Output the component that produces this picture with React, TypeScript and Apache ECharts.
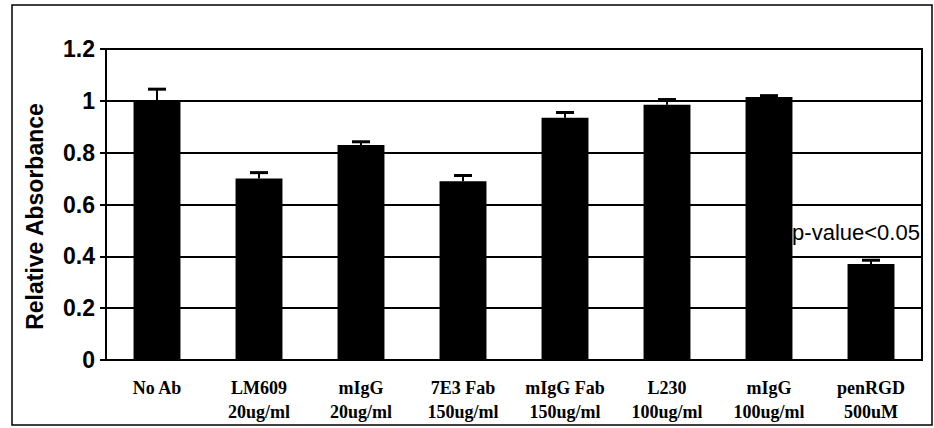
import React, { useEffect, useRef } from "react";
import * as echarts from "echarts";

const categories = [
  "No Ab",
  "LM609\n20ug/ml",
  "mIgG\n20ug/ml",
  "7E3 Fab\n150ug/ml",
  "mIgG Fab\n150ug/ml",
  "L230\n100ug/ml",
  "mIgG\n100ug/ml",
  "penRGD\n500uM",
];
const values = [1.0, 0.70, 0.83, 0.69, 0.935, 0.985, 1.015, 0.37];
const errors = [0.045, 0.023, 0.012, 0.022, 0.02, 0.02, 0.005, 0.015];
const yTicks = { min: 0, max: 1.2, interval: 0.2 };
const annotation = "p-value<0.05";
const annotatedIndex = 7;

export default function App() {
  const ref = useRef<HTMLDivElement>(null);
  useEffect(() => {
    if (!ref.current) return;
    const chart = echarts.init(ref.current, null, { renderer: "svg" });
    const barData = values.map((v, i) =>
      i === annotatedIndex
        ? {
            value: v,
            label: {
              show: true,
              position: "top",
              formatter: annotation,
              offset: [-15, -16],
              color: "#000",
              fontFamily: "Arial, 'Liberation Sans', sans-serif",
              fontSize: 22,
            },
          }
        : v
    );
    chart.setOption({
      animation: false,
      backgroundColor: "#fff",
      grid: {
        left: 106,
        right: 12,
        top: 49,
        bottom: 68,
        show: true,
        borderColor: "#000",
        borderWidth: 2,
        backgroundColor: "transparent",
      },
      graphic: [
        {
          type: "rect",
          shape: { x: 12, y: 5, width: 920, height: 420 },
          style: { fill: "none", stroke: "#000", lineWidth: 1.5 },
          silent: true,
        },
      ],
      xAxis: {
        type: "category",
        data: categories,
        axisLine: { lineStyle: { color: "#000", width: 2 } },
        axisTick: { show: false },
        axisLabel: {
          color: "#000",
          fontFamily: "'Liberation Serif', 'Times New Roman', serif",
          fontWeight: "bold",
          fontSize: 18,
          lineHeight: 24,
          margin: 16,
          interval: 0,
        },
      },
      yAxis: {
        type: "value",
        min: yTicks.min,
        max: yTicks.max,
        interval: yTicks.interval,
        name: "Relative Absorbance",
        nameLocation: "middle",
        nameGap: 60,
        nameTextStyle: {
          color: "#000",
          fontFamily: "Arial, 'Liberation Sans', sans-serif",
          fontWeight: "bold",
          fontSize: 23,
          padding: [0, 24, 0, 0],
        },
        axisLine: { show: true, lineStyle: { color: "#000", width: 2 } },
        axisTick: { show: true, length: 6, lineStyle: { color: "#000", width: 2 } },
        axisLabel: {
          color: "#000",
          fontFamily: "Arial, 'Liberation Sans', sans-serif",
          fontWeight: "bold",
          fontSize: 23,
          margin: 11,
        },
        splitLine: { lineStyle: { color: "#000", width: 2 } },
      },
      series: [
        {
          type: "bar",
          data: barData,
          barWidth: "46%",
          itemStyle: { color: "#000" },
          z: 2,
        },
        {
          type: "custom",
          z: 3,
          data: values.map((v, i) => [i, v, errors[i]]),
          renderItem: (params: any, api: any) => {
            const idx = api.value(0);
            const v = api.value(1);
            const e = api.value(2);
            const top = api.coord([idx, v + e]);
            const base = api.coord([idx, v]);
            const capHalf = 9;
            const style = { stroke: "#000", lineWidth: 3 };
            return {
              type: "group",
              children: [
                {
                  type: "line",
                  shape: { x1: base[0], y1: base[1], x2: top[0], y2: top[1] },
                  style: { stroke: "#000", lineWidth: 2 },
                },
                {
                  type: "line",
                  shape: { x1: top[0] - capHalf, y1: top[1], x2: top[0] + capHalf, y2: top[1] },
                  style,
                },
              ],
            };
          },
        },
      ],
    });
    return () => chart.dispose();
  }, []);
  return (
    <div
      ref={ref}
      style={{ position: "fixed", left: 0, top: 0, width: 934, height: 428, background: "#fff" }}
    />
  );
}
